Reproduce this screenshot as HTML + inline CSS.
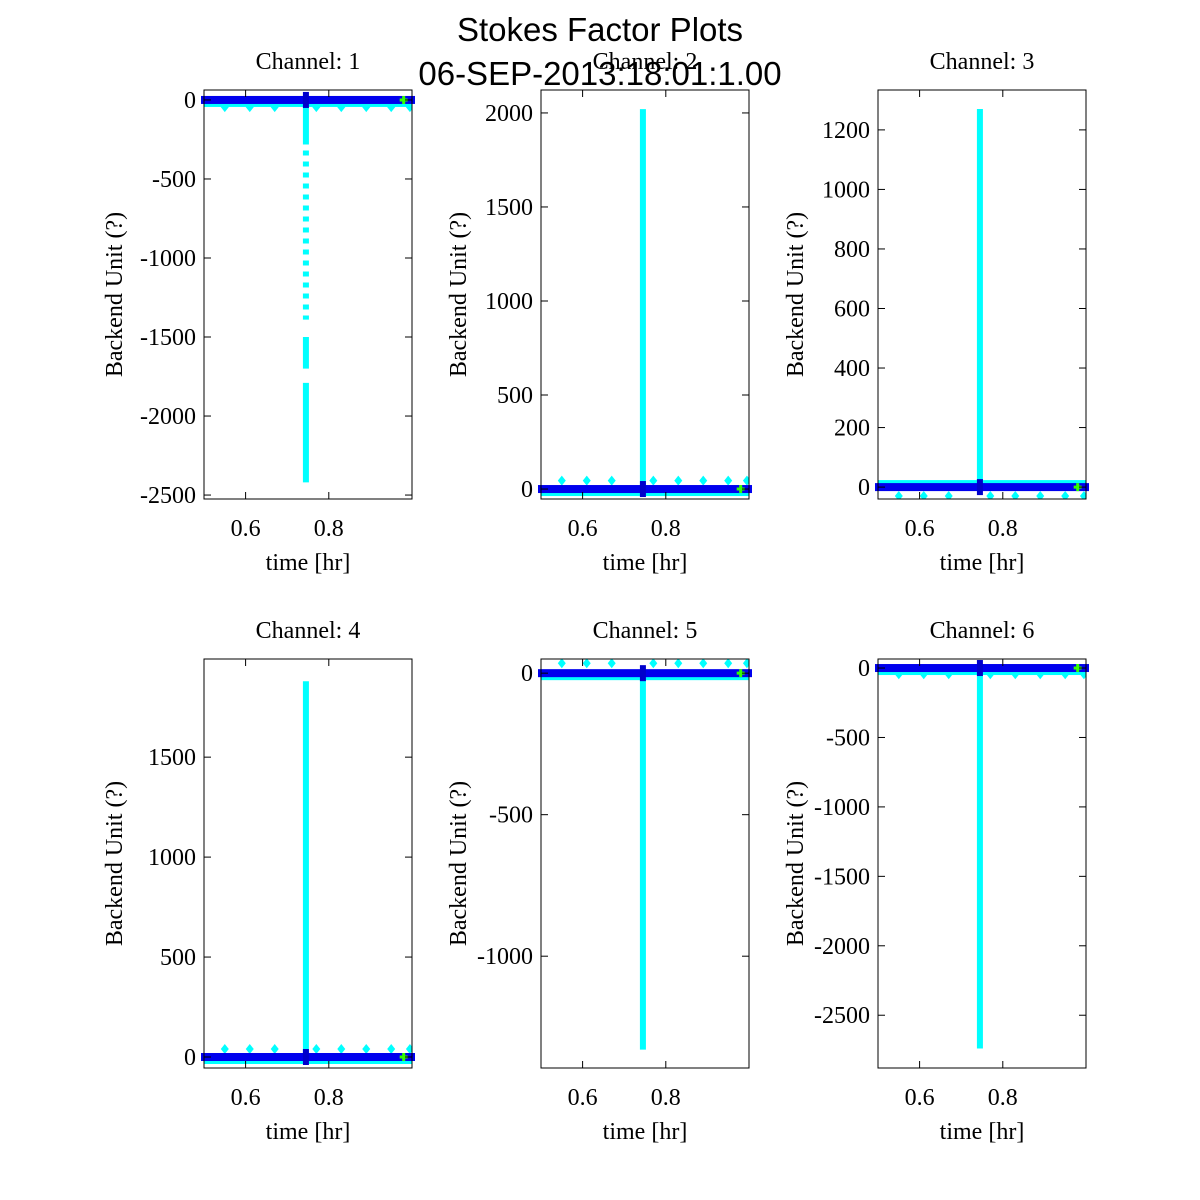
<!DOCTYPE html>
<html><head><meta charset="utf-8"><style>
body{margin:0;background:#fff}
svg{display:block}
.t{font-family:"Liberation Serif",serif;font-size:24px;fill:#000}
.h{font-family:"Liberation Sans",sans-serif;font-size:33px;fill:#000}
</style></head><body>
<svg id="c" width="1200" height="1200">
<rect width="1200" height="1200" fill="#fff"/>
<text class="h" x="600" y="41" text-anchor="middle">Stokes Factor Plots</text>
<text class="h" x="600" y="85" text-anchor="middle">06-SEP-2013:18:01:1.00</text>
</svg>
<script>
const channels=[1,2,3,4,5,6];
const yMins=[-2525,-53,-40,-55,-1395,-2880];
const yMaxs=[63,2122,1334,1991,50,65];
const yTicks=[[0,-500,-1000,-1500,-2000,-2500],[0,500,1000,1500,2000],[0,200,400,600,800,1000,1200],[0,500,1000,1500],[0,-500,-1000],[0,-500,-1000,-1500,-2000,-2500]];
const xTicks=[0.6,0.8];
const spikeX=0.745;
const spikeDense=[[[0,-250],[-1500,-1700],[-1790,-2420]],[[0,2020]],[[0,1270]],[[0,1880]],[[0,-1330]],[[0,-2740]]];
const spikeSparse=[[[-250,-1390]],[],[],[],[],[]];
const outX=[0.55,0.61,0.67,0.77,0.83,0.89,0.95,0.995];
const outVals=[-45,45,-30,40,35,-45];
const greenX=0.98;
const NS='http://www.w3.org/2000/svg';
const svg=document.getElementById('c');
function el(t,a,p){const e=document.createElementNS(NS,t);for(const k in a)e.setAttribute(k,a[k]);(p||svg).appendChild(e);return e;}
const lefts=[204,541,878],tops=[90,659],W=208,H=409;
channels.forEach((ch,i)=>{
  const L=lefts[i%3],T=tops[Math.floor(i/3)];
  const g=el('g',{});
  
  
  const xs=v=>L+(v-0.5)/0.5*W;
  const ys=v=>T+H-(v-yMins[i])/(yMaxs[i]-yMins[i])*H;
  const clip=el('clipPath',{id:'cl'+i},g);el('rect',{x:L,y:T,width:W,height:H},clip);
  const d=el('g',{'clip-path':'url(#cl'+i+')'},g);
  const y0=ys(0);
  const above=(i===2);
  el('rect',{x:L,y:above?y0-7:y0+3,width:W,height:4,fill:'#00ffff'},d);
  outX.forEach(x=>{
    const p=el('path',{d:`M${xs(x)},${ys(outVals[i])-5}l4,5l-4,5l-4,-5z`,fill:'#00ffff'},d);
    
    
  });
  spikeDense[i].forEach(s=>{
    const r=el('line',{x1:xs(spikeX),x2:xs(spikeX),y1:ys(s[0]),y2:ys(s[1]),stroke:'#00ffff','stroke-width':6},d);
    
    
  });
  spikeSparse[i].forEach(s=>{
    const r=el('line',{x1:xs(spikeX),x2:xs(spikeX),y1:ys(s[0]),y2:ys(s[1]),stroke:'#00ffff','stroke-width':6,'stroke-dasharray':'5 6'},d);
    
    
  });
  const bl=el('rect',{x:L-3,y:y0-4,width:W+6,height:8,fill:'#0000ee'},g);
  
  
  el('rect',{x:xs(spikeX)-3,y:y0-8,width:6,height:16,fill:'#0000cc'},g);
  const gm=el('path',{d:`M${xs(greenX)-4},${y0}h8M${xs(greenX)},${y0-4}v8`,stroke:'#33ff00','stroke-width':3},g);
  
  
  el('rect',{x:L,y:T,width:W,height:H,fill:'none',stroke:'#000','stroke-width':1},g);
  xTicks.forEach(v=>{
    const x=xs(v);
    el('line',{x1:x,x2:x,y1:T+H,y2:T+H-7,stroke:'#000'},g);
    el('line',{x1:x,x2:x,y1:T,y2:T+7,stroke:'#000'},g);
    const t=el('text',{x:x,y:T+H+37,class:'t','text-anchor':'middle'},g);t.textContent=v.toFixed(1);
    
    
  });
  yTicks[i].forEach(v=>{
    const y=ys(v);
    el('line',{x1:L,x2:L+7,y1:y,y2:y,stroke:'#000'},g);
    el('line',{x1:L+W,x2:L+W-7,y1:y,y2:y,stroke:'#000'},g);
    const t=el('text',{x:L-8,y:y+8,class:'t','text-anchor':'end'},g);t.textContent=v;
    
    
  });
  const ttl=el('text',{x:L+W/2,y:T-21,class:'t','text-anchor':'middle'},g);ttl.textContent='Channel: '+ch;
  
  
  const xl=el('text',{x:L+W/2,y:T+H+71,class:'t','text-anchor':'middle'},g);xl.textContent='time [hr]';
  
  
  const yx=[122,466,803][i%3];
  const yl=el('text',{x:0,y:0,class:'t','text-anchor':'middle',transform:`translate(${yx},${T+H/2}) rotate(-90)`},g);yl.textContent='Backend Unit (?)';
  
  
});
</script>
</body></html>
